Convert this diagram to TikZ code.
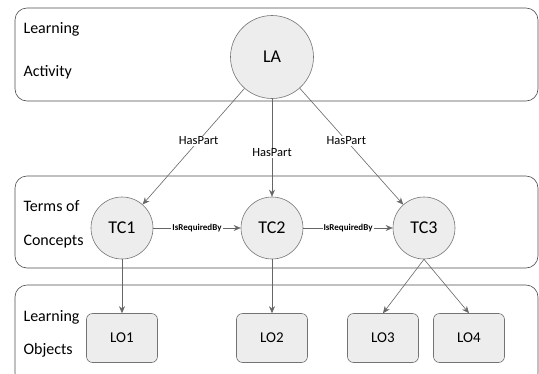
\documentclass[tikz,border=0pt]{standalone}
\usepackage{fontspec}
\setmainfont{Carlito}
\usetikzlibrary{arrows.meta}

\begin{document}
\begin{tikzpicture}[
		x=1pt, y=-1pt,
		band/.style={draw=black!70, rounded corners=12pt, line width=0.6pt},
		layer/.style={anchor=west, align=left, font=\fontsize{16}{#1}\selectfont},
		concept/.style={circle, draw=black!55, fill=black!7, line width=0.6pt, font=\fontsize{18}{18}\selectfont},
		object/.style={rectangle, rounded corners=6pt, draw=black!55, fill=black!7, line width=0.6pt,
			minimum width=71pt, minimum height=49pt, font=\fontsize{15}{15}\selectfont},
		link/.style={draw=black!60, line width=0.6pt, -{Stealth[length=7pt,width=6pt]}},
		haspart/.style={fill=white, inner sep=1pt, font=\fontsize{12.5}{12.5}\selectfont},
		reqby/.style={fill=white, inner sep=1pt, font=\bfseries\fontsize{9}{9}\selectfont}
		]
		\useasboundingbox (0,0) rectangle (539,373);
		% layers
		\draw[band] (15,8) rectangle (538,101);
		\draw[band] (15,176) rectangle (538,268);
		\draw[band] (15,285) rectangle (538,385);
		\node[layer=43] (la-text) at (20,51) {Learning\\Activity};
		\node[layer=34] (tc-text) at (20,224) {Terms of\\Concepts};
		\node[layer=33] (lo-text) at (20,334) {Learning\\Objects};
		% nodes
		\node[concept, minimum size=83pt] (LA) at (272,57) {LA};
		\node[concept, minimum size=62pt] (TC1) at (122,228) {TC1};
		\node[concept, minimum size=62pt] (TC2) at (272,228) {TC2};
		\node[concept, minimum size=62pt] (TC3) at (424,228) {TC3};
		\node[object] (LO1) at (122,338) {LO1};
		\node[object] (LO2) at (272,338) {LO2};
		\node[object] (LO3) at (383,338) {LO3};
		\node[object] (LO4) at (469,338) {LO4};
		% edges
		\draw[link] (LA) -- node[haspart, pos=0.45] {HasPart} (TC1);
		\draw[link] (LA) -- node[haspart, pos=0.55] {HasPart} (TC2);
		\draw[link] (LA) -- node[haspart, pos=0.45] {HasPart} (TC3);
		\draw[link] (TC1) -- node[reqby] {IsRequiredBy} (TC2);
		\draw[link] (TC2) -- node[reqby] {IsRequiredBy} (TC3);
		\draw[link] (TC1) -- (LO1);
		\draw[link] (TC2) -- (LO2);
		\draw[link] (TC3.south) -- (LO3.north);
		\draw[link] (TC3.south) -- (LO4.north);
	\end{tikzpicture}
\end{document}
